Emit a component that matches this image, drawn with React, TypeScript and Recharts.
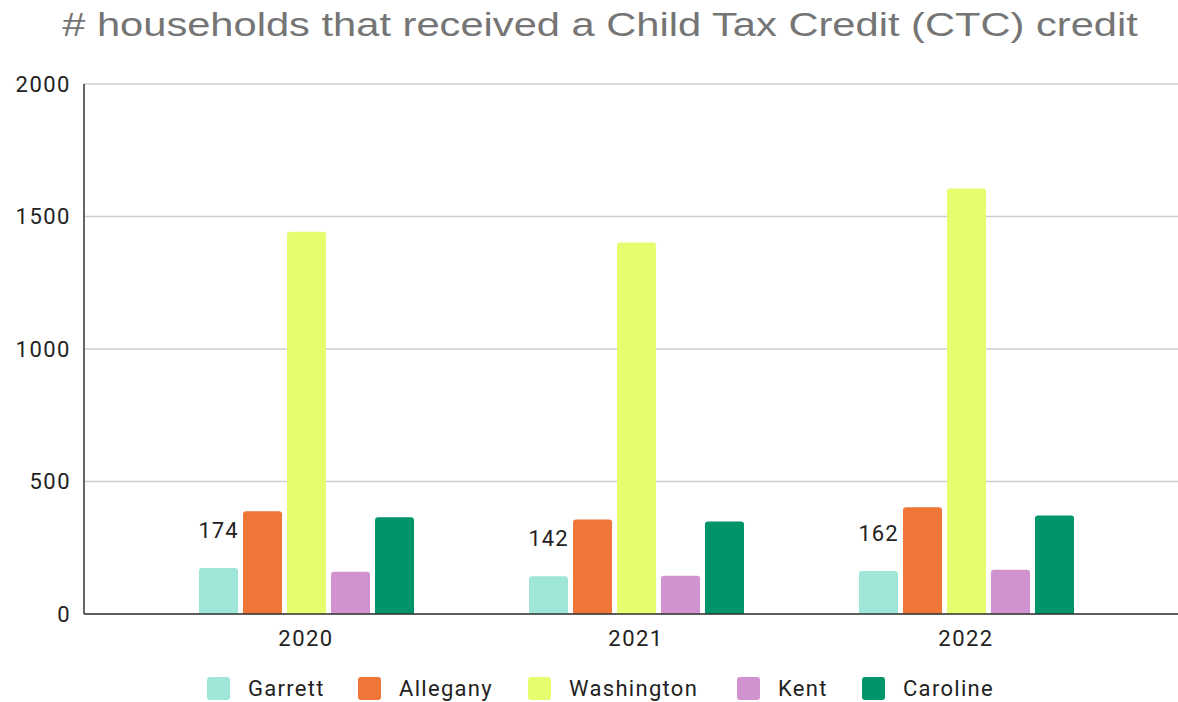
import React from 'react';
import { BarChart, Bar, XAxis, YAxis, CartesianGrid, LabelList } from 'recharts';

const years = ['2020', '2021', '2022'];
const garrett = [174, 142, 162];
const allegany = [388, 357, 403];
const washington = [1442, 1402, 1606];
const kent = [159, 144, 167];
const caroline = [365, 349, 372];
const yTicks = [0, 500, 1000, 1500, 2000];

const series = [
  { key: 'Garrett', color: '#a0e6d8', left: 207 },
  { key: 'Allegany', color: '#ef7637', left: 358 },
  { key: 'Washington', color: '#e5fd6f', left: 528 },
  { key: 'Kent', color: '#d192d0', left: 737 },
  { key: 'Caroline', color: '#00946b', left: 862 },
];

const data = years.map((year, i) => ({
  year,
  Garrett: garrett[i],
  Allegany: allegany[i],
  Washington: washington[i],
  Kent: kent[i],
  Caroline: caroline[i],
}));

const tickFont = { fontFamily: 'Roboto, Arial, sans-serif', fontSize: 22, fill: '#222', letterSpacing: 1.5 };

const App: React.FC = () => {
  return (
    <div style={{ position: 'absolute', left: 0, top: 0, width: 1178, height: 702, background: '#fff', overflow: 'hidden' }}>
      <div
        style={{
          position: 'absolute',
          top: 5,
          left: 0,
          width: 1200,
          textAlign: 'center',
          fontFamily: '"Liberation Sans", Arial, sans-serif',
          fontSize: 34,
          color: '#757575',
          transform: 'scaleX(1.225)',
          transformOrigin: '600px 0',
        }}
      >
        # households that received a Child Tax Credit (CTC) credit
      </div>
      <BarChart
        width={1178}
        height={702}
        data={data}
        margin={{ top: 84, right: 0, left: 0, bottom: 48 }}
        barSize={39}
        barGap={5}
      >
        <CartesianGrid vertical={false} stroke="#cccccc" strokeWidth={1.5} />
        <XAxis
          dataKey="year"
          axisLine={{ stroke: '#333', strokeWidth: 1.5 }}
          tickLine={false}
          tick={tickFont}
          tickMargin={10}
          height={40}
          padding={{ left: 57, right: 47 }}
        />
        <YAxis
          domain={[0, 2000]}
          ticks={yTicks}
          width={84}
          axisLine={{ stroke: '#333', strokeWidth: 1.5 }}
          tickLine={false}
          tick={tickFont}
          tickMargin={7}
        />
        {series.map((s) => (
          <Bar key={s.key} dataKey={s.key} fill={s.color} radius={[3, 3, 0, 0]} isAnimationActive={false}>
            {s.key === 'Garrett' && (
              <LabelList
                dataKey="Garrett"
                position="top"
                offset={30}
                style={{ fontFamily: 'Roboto, Arial, sans-serif', fontSize: 22, fill: '#222', letterSpacing: 1 }}
              />
            )}
          </Bar>
        ))}
      </BarChart>
      {series.map((s) => (
        <div
          key={s.key}
          style={{
            position: 'absolute',
            top: 676,
            left: s.left,
            display: 'flex',
            alignItems: 'center',
            fontFamily: 'Roboto, Arial, sans-serif',
            fontSize: 22,
            letterSpacing: 1.3,
            color: '#222',
            whiteSpace: 'nowrap',
          }}
        >
          <span
            style={{
              display: 'inline-block',
              width: 23,
              height: 23,
              borderRadius: 3,
              background: s.color,
              marginRight: 18,
            }}
          />
          <span>{s.key}</span>
        </div>
      ))}
    </div>
  );
};

export default App;
